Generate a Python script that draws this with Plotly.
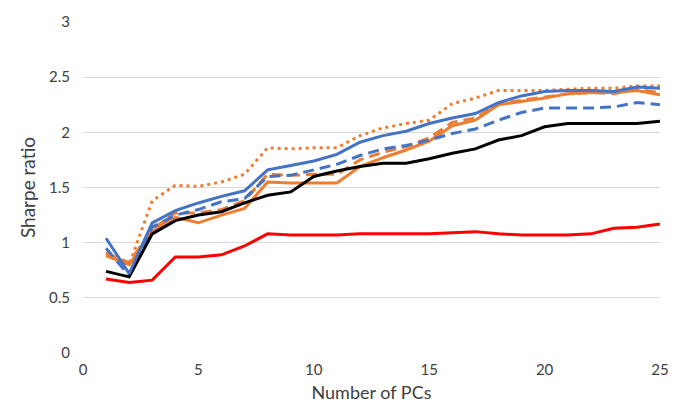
import plotly.graph_objects as go

# Number of principal components kept
n_pcs = list(range(1, 26))

# Sharpe ratio per strategy variant
blue_solid = [1.04, 0.72, 1.18, 1.29, 1.36, 1.42, 1.47, 1.66, 1.70, 1.74, 1.80, 1.91, 1.97,
              2.01, 2.08, 2.13, 2.17, 2.27, 2.33, 2.37, 2.38, 2.38, 2.37, 2.41, 2.40]
blue_dashed = [0.95, 0.70, 1.14, 1.25, 1.30, 1.37, 1.40, 1.60, 1.61, 1.66, 1.71, 1.79, 1.85,
               1.88, 1.93, 1.99, 2.03, 2.11, 2.18, 2.22, 2.22, 2.22, 2.23, 2.27, 2.25]
orange_solid = [0.88, 0.80, 1.10, 1.23, 1.18, 1.25, 1.31, 1.55, 1.54, 1.54, 1.54, 1.69, 1.77,
                1.84, 1.92, 2.06, 2.11, 2.25, 2.28, 2.31, 2.35, 2.36, 2.36, 2.38, 2.34]
orange_dashed = [0.90, 0.82, 1.12, 1.27, 1.27, 1.30, 1.38, 1.62, 1.61, 1.62, 1.62, 1.75, 1.82,
                 1.87, 1.95, 2.09, 2.13, 2.26, 2.29, 2.32, 2.35, 2.36, 2.35, 2.39, 2.36]
orange_dotted = [0.91, 0.80, 1.38, 1.52, 1.51, 1.55, 1.62, 1.86, 1.85, 1.86, 1.86, 1.97, 2.04,
                 2.08, 2.11, 2.26, 2.31, 2.38, 2.38, 2.38, 2.39, 2.40, 2.40, 2.42, 2.42]
black_solid = [0.74, 0.69, 1.08, 1.20, 1.25, 1.28, 1.36, 1.43, 1.46, 1.60, 1.65, 1.69, 1.72,
               1.72, 1.76, 1.81, 1.85, 1.93, 1.97, 2.05, 2.08, 2.08, 2.08, 2.08, 2.10]
red_solid = [0.67, 0.64, 0.66, 0.87, 0.87, 0.89, 0.97, 1.08, 1.07, 1.07, 1.07, 1.08, 1.08,
             1.08, 1.08, 1.09, 1.10, 1.08, 1.07, 1.07, 1.07, 1.08, 1.13, 1.14, 1.17]

x_ticks = [0, 5, 10, 15, 20, 25]
y_ticks = [0, 0.5, 1, 1.5, 2, 2.5, 3]

BLUE = "#4472C4"
ORANGE = "#ED7D31"

series = [
    (orange_solid, ORANGE, "solid"),
    (orange_dashed, ORANGE, "11px,6px"),
    (orange_dotted, ORANGE, "3px,4px"),
    (blue_dashed, BLUE, "11px,6px"),
    (black_solid, "#000000", "solid"),
    (blue_solid, BLUE, "solid"),
    (red_solid, "#FF0000", "solid"),
]

fig = go.Figure()
for ys, color, dash in series:
    fig.add_trace(go.Scatter(
        x=n_pcs, y=ys, mode="lines",
        line=dict(color=color, width=3, dash=dash),
        showlegend=False, hoverinfo="skip",
    ))

font_family = "Lato, 'Open Sans', sans-serif"
fig.update_layout(
    width=681, height=414,
    margin=dict(l=83, r=14, t=22, b=61),
    paper_bgcolor="white", plot_bgcolor="white",
    font=dict(family=font_family, size=15, color="#404040"),
    xaxis=dict(
        range=[0, 25], tickvals=x_ticks, ticktext=[str(v) for v in x_ticks],
        showgrid=False, zeroline=False, showline=False,
        ticks="", ticklabelstandoff=6,
        title=dict(text="Number of PCs", font=dict(size=18, color="#404040"), standoff=9),
    ),
    yaxis=dict(
        range=[0, 3], tickvals=y_ticks, ticktext=["0", "0.5", "1", "1.5", "2", "2.5", "3"],
        showgrid=True, gridcolor="#D9D9D9", gridwidth=1,
        zeroline=False, showline=False, ticks="", ticklabelstandoff=12,
        title=dict(text="Sharpe ratio", font=dict(size=19, color="#404040"), standoff=8),
    ),
)

fig.write_html("out.html")
